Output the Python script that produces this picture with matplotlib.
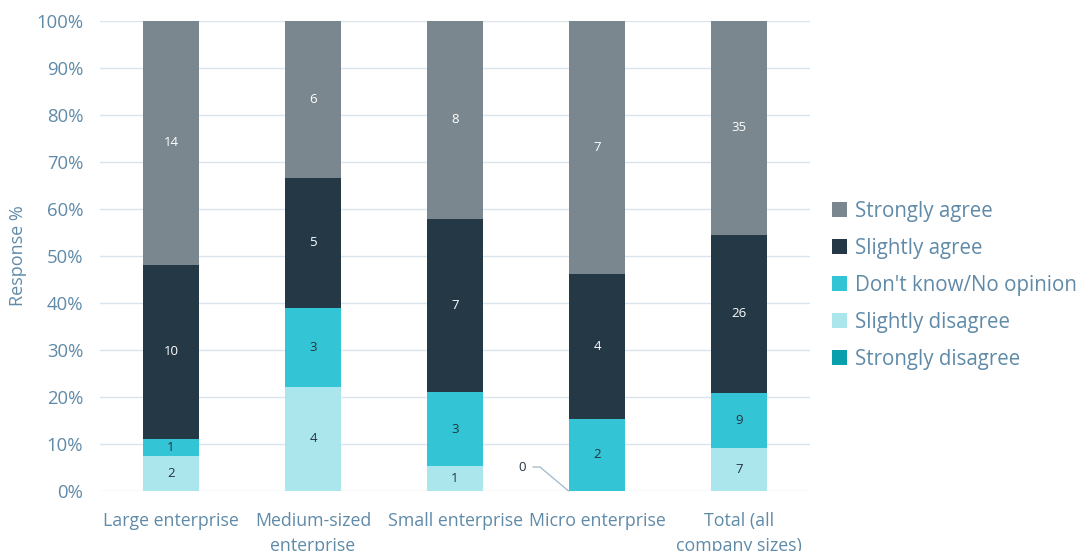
import numpy as np
import matplotlib.pyplot as plt

plt.rcParams['font.family'] = ['Open Sans', 'DejaVu Sans']

categories = ['Large enterprise', 'Medium-sized\nenterprise', 'Small enterprise',
              'Micro enterprise', 'Total (all\ncompany sizes)']
strongly_disagree = [0, 0, 0, 0, 0]
slightly_disagree = [2, 4, 1, 0, 7]
dont_know = [1, 3, 3, 2, 9]
slightly_agree = [10, 5, 7, 4, 26]
strongly_agree = [14, 6, 8, 7, 35]

series = [
    ('Strongly disagree', strongly_disagree, '#0a9fac', '#24343f'),
    ('Slightly disagree', slightly_disagree, '#ace6ed', '#24343f'),
    ("Don't know/No opinion", dont_know, '#33c4d5', '#24343f'),
    ('Slightly agree', slightly_agree, '#243845', 'white'),
    ('Strongly agree', strongly_agree, '#7a878f', 'white'),
]

text_col = '#5f8aa8'
counts = np.array([s[1] for s in series], dtype=float)
totals = counts.sum(axis=0)
pct = counts / totals * 100

fig = plt.figure(figsize=(10.83, 5.51), dpi=100)
ax = fig.add_axes([100 / 1083, 60 / 551, 710 / 1083, 470 / 551])

x = np.arange(len(categories))
bottom = np.zeros(len(categories))
handles = []
for (name, vals, col, lab_col), p in zip(series, pct):
    bars = ax.bar(x, p, 0.4, bottom=bottom, color=col, label=name, zorder=2)
    handles.append(bars)
    for xi, b, h, v in zip(x, bottom, p, vals):
        if v > 0:
            ax.text(xi, b + h / 2, str(v), ha='center', va='center',
                    fontsize=9.5, color=lab_col, zorder=3)
    bottom += p

# zero-count segment on the micro column gets a leader label
ax.annotate('0', xy=(3 - 0.2, 0), xytext=(2.5, 5.1), fontsize=9.5,
            color='#24343f', ha='right', va='center',
            arrowprops=dict(arrowstyle='-', color='#9fb8c8', lw=0.9,
                            connectionstyle='angle,angleA=0,angleB=-40,rad=0',
                            shrinkA=3, shrinkB=0))

ax.set_xlim(-0.5, 4.5)
ax.set_ylim(0, 100)
ax.set_yticks(np.arange(0, 101, 10))
ax.set_yticklabels([f'{v}%' for v in range(0, 101, 10)])
ax.set_xticks(x)
ax.set_xticklabels(categories, linespacing=1.5)
ax.grid(axis='y', color='#d9e5ee', lw=1, zorder=0)
ax.tick_params(length=0, labelsize=13.3, colors=text_col)
ax.tick_params(axis='y', pad=12)
ax.tick_params(axis='x', pad=15, labelsize=12.8)
for s in ax.spines.values():
    s.set_visible(False)
ax.set_ylabel('Response %', fontsize=13, color=text_col, va='center')
ax.yaxis.set_label_coords(-82 / 710, 0.5)

leg = ax.legend(handles[::-1], [s[0] for s in series][::-1], loc='center left',
                bbox_to_anchor=(1.005, 0.438), frameon=False, fontsize=14.8,
                handlelength=0.75, handleheight=0.75, handletextpad=0.35,
                labelspacing=0.78)
for t in leg.get_texts():
    t.set_color(text_col)

fig.savefig('out.png', dpi=100)
